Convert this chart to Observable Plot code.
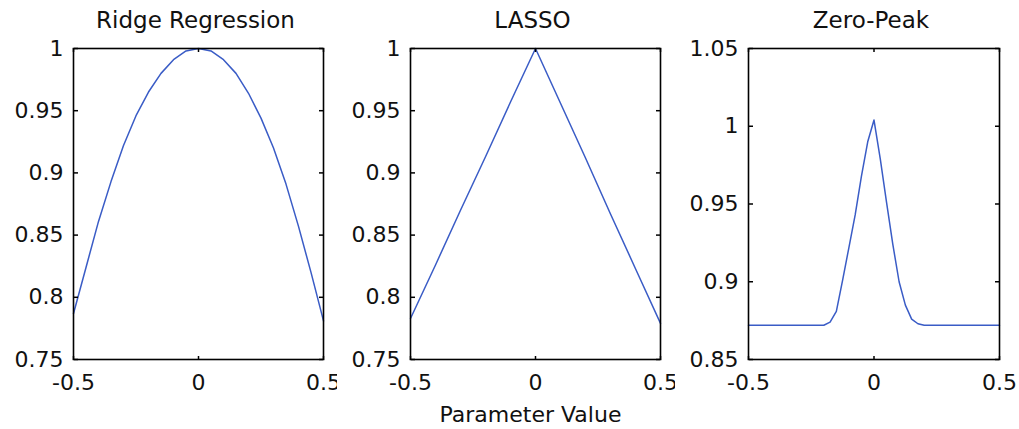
<!DOCTYPE html>
<html>
<head>
<meta charset="utf-8">
<script src="https://cdn.jsdelivr.net/npm/d3@7"></script>
<script src="https://cdn.jsdelivr.net/npm/@observablehq/plot@0.6"></script>
<style>
  html, body { margin: 0; padding: 0; background: #fff; }
  #row { display: flex; width: 1019px; height: 429px; }
  #row svg { display: block; }
</style>
</head>
<body>
<div id="row"></div>
<script>
// ---- data ----
const titles = ["Ridge Regression", "LASSO", "Zero-Peak"];
const xLabel = "Parameter Value";
const xTicks = [-0.5, 0, 0.5];
const xTickLabels = ["-0.5", "0", "0.5"];

const ridgeX = [-0.5, -0.45, -0.4, -0.35, -0.3, -0.25, -0.2, -0.15, -0.1, -0.05, 0, 0.05, 0.1, 0.15, 0.2, 0.25, 0.3, 0.35, 0.4, 0.45, 0.5];
const ridgeY = [0.787, 0.824, 0.861, 0.893, 0.922, 0.946, 0.965, 0.980, 0.991, 0.998, 1.000, 0.998, 0.991, 0.980, 0.964, 0.944, 0.920, 0.891, 0.857, 0.820, 0.781];

const lassoX = [-0.5, -0.4, -0.3, -0.2, -0.1, 0, 0.1, 0.2, 0.3, 0.4, 0.5];
const lassoY = [0.783, 0.826, 0.870, 0.913, 0.957, 1.000, 0.956, 0.912, 0.867, 0.823, 0.779];

const peakX = [-0.5, -0.4, -0.3, -0.2, -0.175, -0.15, -0.125, -0.1, -0.075, -0.05, -0.025, 0, 0.025, 0.05, 0.075, 0.1, 0.125, 0.15, 0.175, 0.2, 0.3, 0.4, 0.5];
const peakY = [0.872, 0.872, 0.872, 0.872, 0.874, 0.881, 0.901, 0.922, 0.943, 0.968, 0.990, 1.004, 0.979, 0.951, 0.924, 0.900, 0.885, 0.876, 0.873, 0.872, 0.872, 0.872, 0.872];

const yTicksA = [0.75, 0.8, 0.85, 0.9, 0.95, 1];
const yTickLabelsA = ["0.75", "0.8", "0.85", "0.9", "0.95", "1"];
const yTicksB = [0.85, 0.9, 0.95, 1, 1.05];
const yTickLabelsB = ["0.85", "0.9", "0.95", "1", "1.05"];

// ---- drawing ----
const lineColor = "#3a5cc6";
const fontStyle = {fontFamily: "'DejaVu Sans', sans-serif", fontSize: "22px", color: "#111", background: "#fff", overflow: "visible"};

function panel({title, xs, ys, yDomain, yTicks, yLabels, width, marginRight, showXLabel}) {
  const data = xs.map((x, i) => ({x, y: ys[i]}));
  const tickStyle = {stroke: "#000", strokeWidth: 1.5, label: null};
  const marks = [
    Plot.line(data, {x: "x", y: "y", stroke: lineColor, strokeWidth: 1.5}),
    // inward tick marks on all four sides (MATLAB box style)
    Plot.axisY({anchor: "right", frameAnchor: "left", ticks: yTicks, tickSize: 4, tickFormat: () => "", ...tickStyle}),
    Plot.axisY({anchor: "left", frameAnchor: "right", ticks: yTicks, tickSize: 4, tickFormat: () => "", ...tickStyle}),
    Plot.axisX({anchor: "top", frameAnchor: "bottom", ticks: xTicks, tickSize: 4, tickFormat: () => "", ...tickStyle}),
    Plot.axisX({anchor: "bottom", frameAnchor: "top", ticks: xTicks, tickSize: 4, tickFormat: () => "", ...tickStyle}),
    // tick labels
    Plot.axisY({anchor: "left", ticks: yTicks, tickSize: 0, tickPadding: 10,
      tickFormat: (d) => yLabels[yTicks.indexOf(d)], label: null}),
    Plot.axisX({anchor: "bottom", ticks: xTicks, tickSize: 0, tickPadding: 15,
      tickFormat: (d) => xTickLabels[xTicks.indexOf(d)], label: null}),
    Plot.frame({stroke: "#000", strokeWidth: 1.6}),
    Plot.text([title], {text: (d) => d, frameAnchor: "top", lineAnchor: "bottom", dy: -21, dx: -3, fontSize: 23, fill: "#111"})
  ];
  if (showXLabel) {
    marks.push(Plot.text([xLabel], {text: (d) => d, frameAnchor: "bottom", lineAnchor: "bottom", dy: 62, dx: -5, fontSize: 22, fill: "#111"}));
  }
  return Plot.plot({
    width,
    height: 429,
    marginLeft: 73,
    marginRight,
    marginTop: 48,
    marginBottom: 70,
    style: fontStyle,
    x: {domain: [-0.5, 0.5]},
    y: {domain: yDomain},
    marks
  });
}

const row = document.getElementById("row");
row.append(panel({title: titles[0], xs: ridgeX, ys: ridgeY, yDomain: [0.75, 1], yTicks: yTicksA, yLabels: yTickLabelsA, width: 337, marginRight: 14}));
row.append(panel({title: titles[1], xs: lassoX, ys: lassoY, yDomain: [0.75, 1], yTicks: yTicksA, yLabels: yTickLabelsA, width: 338, marginRight: 15, showXLabel: true}));
row.append(panel({title: titles[2], xs: peakX, ys: peakY, yDomain: [0.85, 1.05], yTicks: yTicksB, yLabels: yTickLabelsB, width: 344, marginRight: 20}));
</script>
</body>
</html>
